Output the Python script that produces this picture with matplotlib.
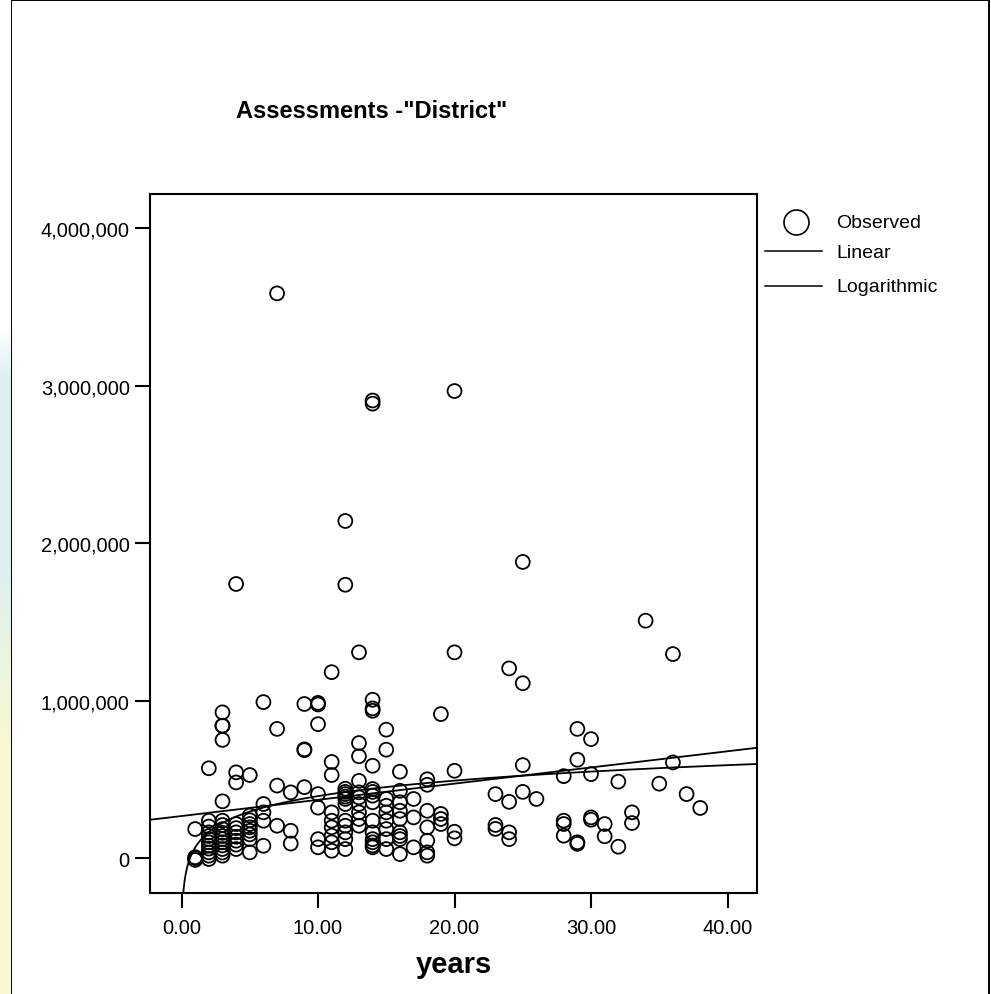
import numpy as np
import matplotlib.pyplot as plt
from matplotlib.lines import Line2D
from matplotlib.patches import Rectangle
from matplotlib.ticker import FuncFormatter

# observed points: years -> assessment values (thousands)
obs = {
    1: [184, 0, -12, 5],
    2: [570, 237, 200, 163, 140, 120, 100, 78, 60, 36, 15, -6],
    3: [925, 840, 840, 750, 360, 237, 210, 184, 160, 140, 120, 100, 80, 57, 35, 15],
    4: [1740, 544, 480, 216, 190, 163, 135, 110, 85, 57],
    5: [527, 270, 240, 216, 195, 173, 150, 120, 36],
    6: [990, 343, 290, 237, 78],
    7: [3585, 820, 460, 205],
    8: [417, 173, 92],
    9: [978, 690, 685, 450],
    10: [985, 975, 850, 406, 320, 120, 68],
    11: [1180, 610, 527, 290, 237, 195, 142, 100, 46],
    12: [2140, 1735, 440, 420, 406, 390, 375, 343, 237, 205, 163, 120, 57],
    13: [1306, 730, 646, 490, 417, 385, 343, 290, 248, 205],
    14: [2905, 2885, 1005, 950, 935, 586, 438, 420, 396, 354, 237, 163, 120, 100, 80, 68],
    15: [815, 688, 375, 332, 290, 237, 184, 120, 57],
    16: [548, 427, 354, 300, 248, 163, 140, 120, 25],
    17: [375, 258, 68],
    18: [500, 465, 300, 195, 110, 36, 15],
    19: [914, 280, 248, 216],
    20: [2965, 1306, 554, 167, 125],
    23: [406, 210, 185],
    24: [1204, 357, 163, 120],
    25: [1880, 1110, 590, 420],
    26: [375],
    28: [520, 237, 216, 142],
    29: [820, 624, 100, 90],
    30: [755, 533, 258, 243],
    31: [216, 138],
    32: [485, 72],
    33: [290, 222],
    34: [1507],
    35: [472],
    36: [1295, 607],
    37: [406],
    38: [318],
}

years = np.array([yr for yr, vals in obs.items() for v in vals], dtype=float)
assess = np.array([v * 1000.0 for yr, vals in obs.items() for v in vals])

# fitted curve coefficients
lin_intercept = 266700
lin_slope = 10280
log_const = 67000
log_coef = 141700

x_ticks = [0, 10, 20, 30, 40]
y_ticks = [0, 1000000, 2000000, 3000000, 4000000]

W, H = 991, 995


def fx(px):
    return px / W


def fy(py):
    return 1 - py / H


fig = plt.figure(figsize=(W / 100, H / 100), dpi=100)

# slide background strip at the left edge
bg = fig.add_axes([0, 0, fx(11), 1])
top = np.array([1.0, 1.0, 1.0])
cyan = np.array([0.86, 0.94, 0.94])
yellow = np.array([0.98, 0.98, 0.82])
rows = []
for i in range(H):
    if i < 330:
        c = top
    elif i < 380:
        t = (i - 330) / 50
        c = top * (1 - t) + cyan * t
    elif i < 560:
        c = cyan
    elif i < 760:
        t = (i - 560) / 200
        c = cyan * (1 - t) + yellow * t
    else:
        c = yellow
    rows.append(c)
bg.imshow(np.array(rows)[:, None, :], aspect='auto', extent=[0, 1, 0, 1])
bg.axis('off')

fig.patches.append(Rectangle((fx(11), fy(1005)), fx(989) - fx(11), fy(1) - fy(1005),
                             transform=fig.transFigure, facecolor='white',
                             edgecolor='black', lw=1.4, figure=fig, zorder=-1))

ax = fig.add_axes([fx(150), fy(894), fx(757) - fx(150), fy(195) - fy(894)])
ax.set_facecolor('none')

x_min, x_max = -2.31, 42.16
ax.set_xlim(x_min, x_max)
ax.set_ylim(-222000, 4216000)

# fitted curves
xl = np.linspace(x_min, x_max, 200)
ax.plot(xl, lin_intercept + lin_slope * xl, color='black', lw=1.3)
xg = np.linspace(0.01, x_max, 2000)
ax.plot(xg, log_const + log_coef * np.log(xg), color='black', lw=1.3)

ax.scatter(years, assess, s=100, facecolors='none', edgecolors='black',
           linewidths=1.3, zorder=3)

for s in ax.spines.values():
    s.set_linewidth(1.5)
ax.set_xticks(x_ticks)
ax.set_yticks(y_ticks)
ax.xaxis.set_major_formatter(FuncFormatter(lambda v, p: f'{v:.2f}'))
ax.yaxis.set_major_formatter(FuncFormatter(lambda v, p: f'{v:,.0f}'))
ax.tick_params(direction='out', length=11, width=1.5, labelsize=14.5,
               labelfontfamily='Liberation Sans')
ax.tick_params(axis='x', pad=7)
ax.tick_params(axis='y', pad=3.5)

fig.text(fx(372), fy(112), 'Assessments -"District"', ha='center', va='center',
         fontsize=17, fontweight='bold', family='Liberation Sans')
fig.text(fx(454), fy(965), 'years', ha='center', va='center',
         fontsize=21, fontweight='bold', family='Liberation Sans')

# legend
fig.add_artist(Line2D([fx(796)], [fy(223)], marker='o', markersize=18,
                      markerfacecolor='none', markeredgecolor='black',
                      markeredgewidth=1.2, transform=fig.transFigure))
fig.add_artist(Line2D([fx(765), fx(822)], [fy(252), fy(252)], color='black',
                      lw=1.1, transform=fig.transFigure))
fig.add_artist(Line2D([fx(765), fx(822)], [fy(287), fy(287)], color='black',
                      lw=1.1, transform=fig.transFigure))
for label, py in [('Observed', 223), ('Linear', 253), ('Logarithmic', 287)]:
    fig.text(fx(836), fy(py), label, ha='left', va='center', fontsize=14,
             family='Liberation Sans')

fig.savefig('out.png', dpi=100)
